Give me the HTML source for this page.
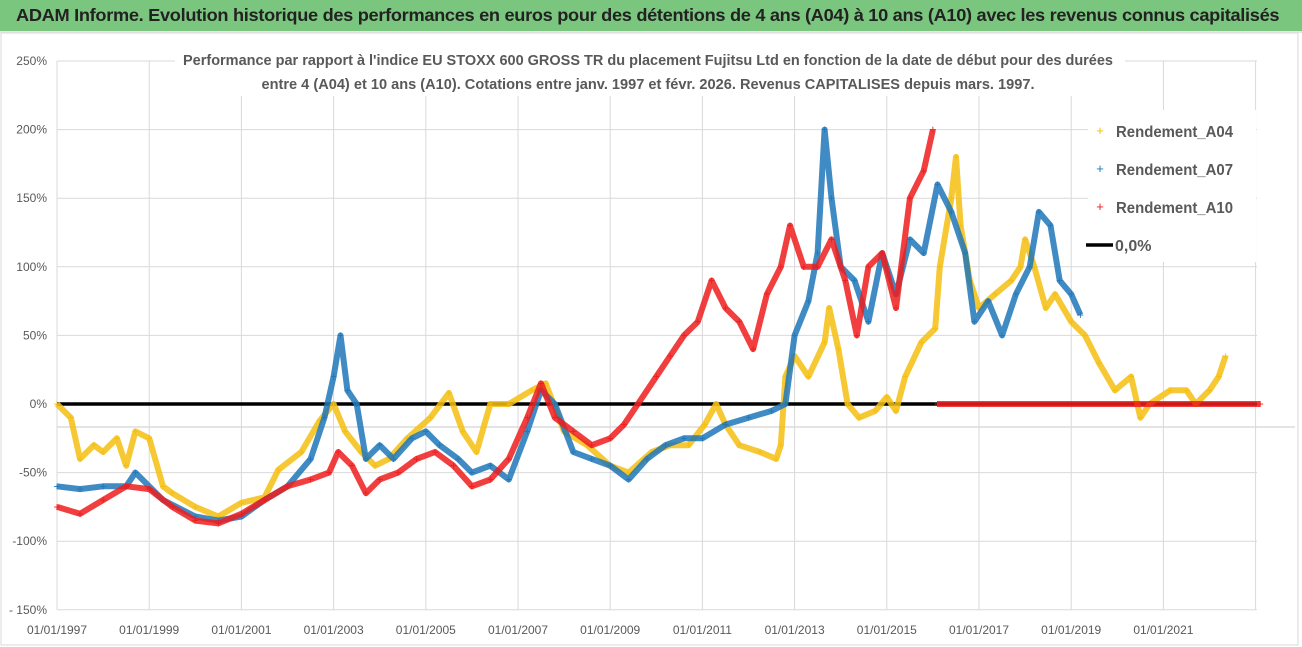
<!DOCTYPE html>
<html><head><meta charset="utf-8"><style>
body{margin:0;width:1302px;height:647px;overflow:hidden;background:#fff;font-family:"Liberation Sans",sans-serif;}
#bar{position:absolute;left:0;top:0;width:1302px;height:31px;background:#7bc67e;border-bottom:2px solid #e6e6e6;}
#bar span{position:absolute;left:16px;top:5px;font-size:17.5px;font-weight:bold;color:#222;letter-spacing:-0.3px;white-space:nowrap;transform:scaleX(1.04);transform-origin:left;}
svg{position:absolute;left:0;top:0;}
</style></head><body>
<div id="bar"><span>ADAM Informe. Evolution historique des performances en euros pour des détentions de 4 ans (A04) à 10 ans (A10) avec les revenus connus capitalisés</span></div>
<svg id="c" width="1302" height="647"></svg>
<script>
const yTicks=[250,200,150,100,50,-50,-100,-150];
const yTickLabels=["250%","200%","150%","100%","50%","0%","-50%","-100%","- 150%"];
const yTickValues=[250,200,150,100,50,0,-50,-100,-150];
const xTickYears=[1997,1999,2001,2003,2005,2007,2009,2011,2013,2015,2017,2019,2021];
const xTickLabels=["01/01/1997","01/01/1999","01/01/2001","01/01/2003","01/01/2005","01/01/2007","01/01/2009","01/01/2011","01/01/2013","01/01/2015","01/01/2017","01/01/2019","01/01/2021"];
const a04Years=[1997,1997.3,1997.5,1997.8,1998,1998.3,1998.5,1998.7,1999,1999.3,1999.5,2000,2000.5,2001,2001.5,2001.8,2002.3,2002.7,2003,2003.25,2003.6,2003.9,2004.2,2004.6,2005.1,2005.5,2005.8,2006.1,2006.4,2006.8,2007.3,2007.6,2008,2008.5,2009,2009.4,2009.9,2010.3,2010.7,2011.05,2011.3,2011.5,2011.8,2012.25,2012.6,2012.7,2012.8,2013,2013.3,2013.65,2013.75,2013.95,2014.15,2014.4,2014.75,2015,2015.2,2015.4,2015.75,2016.05,2016.15,2016.4,2016.5,2016.6,2016.8,2017,2017.35,2017.7,2017.9,2018,2018.2,2018.45,2018.65,2019,2019.3,2019.6,2019.95,2020.3,2020.5,2020.7,2021.15,2021.5,2021.7,2022,2022.2,2022.35];
const a04Values=[0,-10,-40,-30,-35,-25,-45,-20,-25,-60,-65,-75,-82,-72,-68,-48,-35,-12,0,-20,-35,-45,-40,-25,-10,8,-20,-35,0,0,10,15,-20,-30,-45,-50,-35,-30,-30,-15,0,-15,-30,-35,-40,-30,20,35,20,45,70,40,0,-10,-5,5,-5,20,45,55,100,150,180,130,90,70,80,90,100,120,100,70,80,60,50,30,10,20,-10,0,10,10,0,10,20,35];
const a07Years=[1997,1997.5,1998,1998.5,1998.7,1999.3,2000,2000.5,2001,2001.5,2002,2002.5,2002.8,2003,2003.15,2003.3,2003.5,2003.7,2004,2004.3,2004.7,2005,2005.3,2005.7,2006,2006.4,2006.8,2007.2,2007.5,2007.8,2008.2,2008.6,2009,2009.4,2009.8,2010.2,2010.6,2011,2011.5,2012,2012.5,2012.8,2013,2013.3,2013.5,2013.65,2013.8,2014,2014.3,2014.6,2014.9,2015.2,2015.5,2015.8,2016.1,2016.4,2016.7,2016.9,2017.2,2017.5,2017.8,2018.1,2018.3,2018.55,2018.75,2019,2019.2];
const a07Values=[-60,-62,-60,-60,-50,-70,-82,-85,-82,-70,-60,-40,-10,20,50,10,0,-40,-30,-40,-25,-20,-30,-40,-50,-45,-55,-20,10,0,-35,-40,-45,-55,-40,-30,-25,-25,-15,-10,-5,0,50,75,110,200,150,100,90,60,110,80,120,110,160,140,110,60,75,50,80,100,140,130,90,80,65];
const a10Years=[1997,1997.5,1998,1998.5,1999,1999.5,2000,2000.5,2001,2001.5,2002,2002.5,2002.9,2003.1,2003.4,2003.7,2004,2004.4,2004.8,2005.2,2005.6,2006,2006.4,2006.8,2007.2,2007.5,2007.8,2008.2,2008.6,2009,2009.3,2009.6,2010,2010.3,2010.6,2010.9,2011.2,2011.5,2011.8,2012.1,2012.4,2012.7,2012.9,2013.2,2013.5,2013.8,2014.1,2014.35,2014.6,2014.9,2015.2,2015.5,2015.8,2016];
const a10Values=[-75,-80,-70,-60,-62,-75,-85,-87,-80,-70,-60,-55,-50,-35,-45,-65,-55,-50,-40,-35,-45,-60,-55,-40,-10,15,-10,-20,-30,-25,-15,0,20,35,50,60,90,70,60,40,80,100,130,100,100,120,90,50,100,110,70,150,170,200];
const a10TailYears=[2016.1,2023.1];
const a10TailValues=[0,0];

const NS="http://www.w3.org/2000/svg";
const svg=document.getElementById('c');
const X0=57,X1=1257,Y0=404,PX=68.6/50;
function xs(y){return X0+(y-1997)*46.1;}
function ys(v){return Y0-v*PX;}
function mk(t,a){const e=document.createElementNS(NS,t);for(const k in a)e.setAttribute(k,a[k]);svg.appendChild(e);return e;}
let b=mk('rect',{x:1,y:33,width:1297,height:612,fill:'none',stroke:'#d9d9d9'});


yTicks.forEach(v=>{const l=mk('line',{x1:X0,x2:X1,y1:ys(v),y2:ys(v),stroke:'#d9d9d9','stroke-width':1});

});
let g2=mk('line',{x1:X0,x2:1295,y1:427,y2:427,stroke:'#c8c8c8','stroke-width':1});


xTickYears.concat([2023]).forEach(yr=>{const l=mk('line',{x1:xs(yr),x2:xs(yr),y1:ys(250),y2:ys(-150),stroke:'#d9d9d9','stroke-width':1});

});
yTickValues.forEach((v,i)=>{const t=mk('text',{x:47,y:ys(v)+4,'text-anchor':'end','font-size':12,fill:'#595959'});t.textContent=yTickLabels[i];

});
xTickYears.forEach((yr,i)=>{const t=mk('text',{x:xs(yr),y:634,'text-anchor':'middle','font-size':12,fill:'#595959'});t.textContent=xTickLabels[i];

});
let tb=mk('rect',{x:175,y:44,width:950,height:52,fill:'#fff'});


[["Performance par rapport à l'indice EU STOXX 600 GROSS TR  du placement Fujitsu Ltd en fonction de la date de début pour des durées",65,930],["entre 4 (A04) et 10 ans (A10). Cotations entre janv. 1997 et févr. 2026. Revenus CAPITALISES depuis mars. 1997.",89,773]].forEach(([s,y,w])=>{
const t=mk('text',{x:648,y:y,'text-anchor':'middle','font-size':14.5,'font-weight':'bold',fill:'#595959',textLength:w,lengthAdjust:'spacingAndGlyphs'});t.textContent=s;

});
let z=mk('line',{x1:X0,x2:X1,y1:ys(0),y2:ys(0),stroke:'#000','stroke-width':3.5});


function series(years,vals,col,name){
 const g=mk('g',{});
 
 
 const pts=years.map((y,i)=>xs(y).toFixed(1)+','+ys(vals[i]).toFixed(1)).join(' ');
 const p=document.createElementNS(NS,'polyline');
 p.setAttribute('points',pts);p.setAttribute('fill','none');p.setAttribute('stroke',col);p.setAttribute('stroke-width',6);p.setAttribute('stroke-linejoin','round');p.setAttribute('opacity',0.85);
 
 
 g.appendChild(p);
 years.forEach((y,i)=>{const t=document.createElementNS(NS,'text');
  t.setAttribute('x',xs(y));t.setAttribute('y',ys(vals[i])+4);t.setAttribute('text-anchor','middle');t.setAttribute('font-size',12);t.setAttribute('fill',col);t.textContent='+';
  
  
  g.appendChild(t);});
}
series(a04Years,a04Values,'#f5be0f','series-a04');
series(a07Years,a07Values,'#1f77b9','series-a07');
series(a10Years,a10Values,'#ee1c1c','series-a10');
series(a10TailYears,a10TailValues,'#ee1c1c','series-a10-tail');
let lb=mk('rect',{x:1088,y:110,width:168,height:152,fill:'#fff'});


[["Rendement_A04",'#f5be0f',131],["Rendement_A07",'#1f77b9',169],["Rendement_A10",'#ee1c1c',207]].forEach(([s,c,y])=>{
 const m=mk('text',{x:1100,y:y+4,'text-anchor':'middle','font-size':13,fill:c});m.textContent='+';
 
 
 const t=mk('text',{x:1116,y:y+6,'font-size':16,'font-weight':'bold',fill:'#595959',textLength:117,lengthAdjust:'spacingAndGlyphs'});t.textContent=s;
 
 });
let ll=mk('line',{x1:1086,x2:1113,y1:245,y2:245,stroke:'#000','stroke-width':3.5});


let lt=mk('text',{x:1115,y:251,'font-size':16,'font-weight':'bold',fill:'#595959'});lt.textContent='0,0%';


</script>
</body></html>
